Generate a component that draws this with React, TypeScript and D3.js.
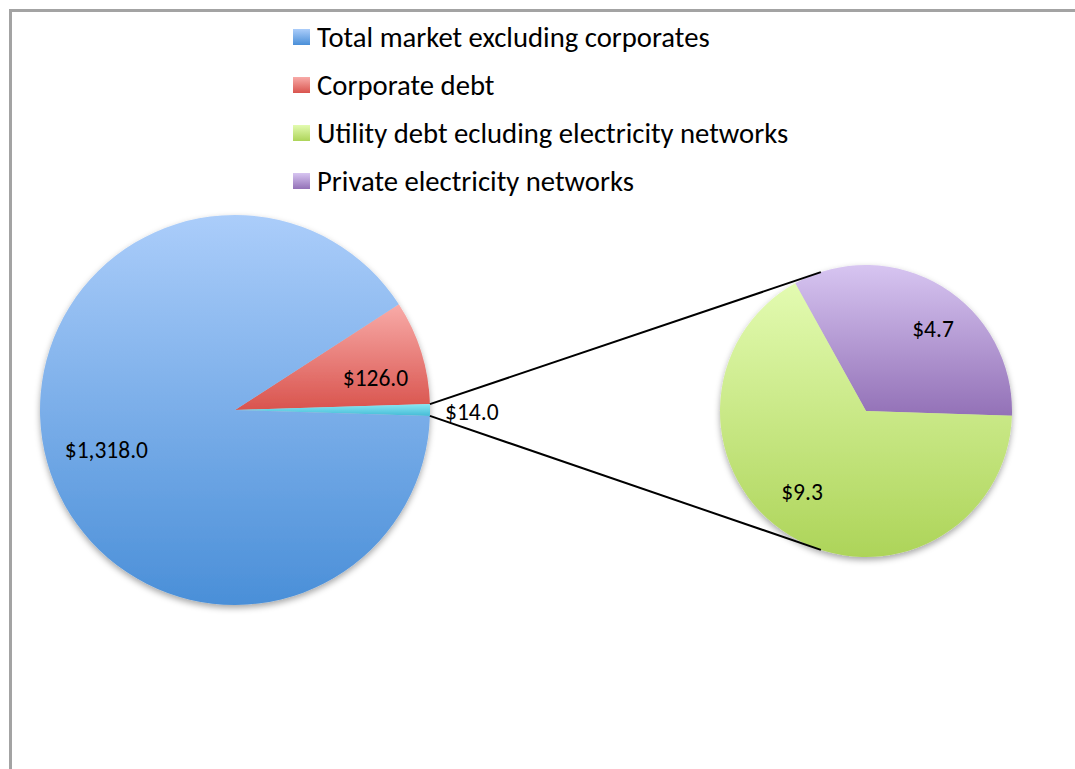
import React from "react";
import * as d3 from "d3";

const legendLabels = [
  "Total market excluding corporates",
  "Corporate debt",
  "Utility debt ecluding electricity networks",
  "Private electricity networks",
];

// main pie (clockwise order starting from the corporate slice)
const mainNames = ["Corporate debt", "Electricity related", "Total market excluding corporates"];
const mainValues = [126.0, 14.0, 1318.0];
const mainText = ["$126.0", "$14.0", "$1,318.0"];

// secondary pie
const subNames = ["Private electricity networks", "Utility debt ecluding electricity networks"];
const subValues = [4.7, 9.3];
const subText = ["$4.7", "$9.3"];

const grads: Record<string, [string, string]> = {
  blue: ["#abcdfa", "#4a8fd8"],
  red: ["#f8aba8", "#d9544e"],
  cyan: ["#8ae6f3", "#45bcd6"],
  green: ["#e3fbb1", "#add459"],
  purple: ["#d7c5f1", "#9371b7"],
};
const mainColors = ["red", "cyan", "blue"];
const subColors = ["purple", "green"];
const legendColors = ["blue", "red", "green", "purple"];

const FONT = "Carlito, Calibri, Lato, sans-serif";

export default function App() {
  const W = 1075, H = 769;
  const main = { cx: 235, cy: 410, r: 195 };
  const sub = { cx: 866, cy: 411, r: 146 };

  // label placement tweaks (Excel-like placement), in px
  const mainNudge = [[12, 8], [0, 0], [1, 4]];
  const subNudge = [[13, 7], [-10, -7]];

  const mainTotal = d3.sum(mainValues);
  const smallAngle = (mainValues[1] / mainTotal) * 2 * Math.PI;
  const corpAngle = (mainValues[0] / mainTotal) * 2 * Math.PI;
  const mainStart = Math.PI / 2 - smallAngle / 2 - corpAngle;
  const mainPie = d3.pie<number>().sort(null).startAngle(mainStart).endAngle(mainStart + 2 * Math.PI)(mainValues);

  const subStart = (-29 * Math.PI) / 180;
  const subPie = d3.pie<number>().sort(null).startAngle(subStart).endAngle(subStart + 2 * Math.PI)(subValues);

  const mainArc = d3.arc<d3.PieArcDatum<number>>().innerRadius(0).outerRadius(main.r);
  const subArc = d3.arc<d3.PieArcDatum<number>>().innerRadius(0).outerRadius(sub.r);
  const mainLabelArc = d3.arc<d3.PieArcDatum<number>>().innerRadius(main.r * 0.69).outerRadius(main.r * 0.69);
  const subLabelArc = d3.arc<d3.PieArcDatum<number>>().innerRadius(sub.r * 0.71).outerRadius(sub.r * 0.71);

  const pt = (cx: number, cy: number, r: number, a: number) => [cx + r * Math.sin(a), cy - r * Math.cos(a)];
  const small = mainPie[1];
  const p1 = pt(main.cx, main.cy, main.r, small.startAngle);
  const p2 = pt(main.cx, main.cy, main.r, small.endAngle);
  const connAngle = (18 * Math.PI) / 180;
  const q1 = pt(sub.cx, sub.cy, sub.r, -connAngle);
  const q2 = pt(sub.cx, sub.cy, sub.r, Math.PI + connAngle);

  const legendY = d3.scalePoint<string>().domain(legendLabels).range([37, 181]);

  return (
    <svg width={W} height={H} style={{ position: "absolute", left: 0, top: 0 }} fontFamily={FONT}>
      <defs>
        {Object.entries(grads).map(([k, [a, b]]) => (
          <linearGradient key={k} id={`g-${k}`} x1="0" y1="0" x2="0" y2="1">
            <stop offset="0" stopColor={a} />
            <stop offset="1" stopColor={b} />
          </linearGradient>
        ))}
        <filter id="shadow" x="-10%" y="-10%" width="120%" height="125%">
          <feDropShadow dx="0" dy="3" stdDeviation="3" floodColor="#000" floodOpacity="0.35" />
        </filter>
      </defs>
      <rect x={0} y={0} width={W} height={H} fill="#fff" />
      <rect x={10.5} y={10.5} width={W + 100} height={H + 100} fill="none" stroke="#a3a3a3" strokeWidth={3} />

      {legendLabels.map((l, i) => (
        <g key={l} transform={`translate(293,${legendY(l)! - 8})`}>
          <rect width={17} height={16} fill={`url(#g-${legendColors[i]})`} />
          <text x={24} y={18} fontSize={28.7} fill="#000">{l}</text>
        </g>
      ))}

      <g transform={`translate(${main.cx},${main.cy})`} filter="url(#shadow)">
        {mainPie.map((d, i) => (
          <path key={mainNames[i]} d={mainArc(d)!} fill={`url(#g-${mainColors[i]})`} />
        ))}
      </g>
      <g transform={`translate(${sub.cx},${sub.cy})`} filter="url(#shadow)">
        {subPie.map((d, i) => (
          <path key={subNames[i]} d={subArc(d)!} fill={`url(#g-${subColors[i]})`} />
        ))}
      </g>

      <line x1={p1[0]} y1={p1[1]} x2={q1[0]} y2={q1[1]} stroke="#000" strokeWidth={2} />
      <line x1={p2[0]} y1={p2[1]} x2={q2[0]} y2={q2[1]} stroke="#000" strokeWidth={2} />

      <g transform={`translate(${main.cx},${main.cy})`} fontSize={23.5} fill="#000">
        {mainPie.map((d, i) => {
          if (i === 1) {
            return (
              <text key={i} x={main.r + 15} y={10}>{mainText[i]}</text>
            );
          }
          const [x, y] = mainLabelArc.centroid(d);
          return (
            <text key={i} x={x + mainNudge[i][0]} y={y + mainNudge[i][1] + 7.5} textAnchor="middle">{mainText[i]}</text>
          );
        })}
      </g>
      <g transform={`translate(${sub.cx},${sub.cy})`} fontSize={23.5} fill="#000">
        {subPie.map((d, i) => {
          const [x, y] = subLabelArc.centroid(d);
          return (
            <text key={i} x={x + subNudge[i][0]} y={y + subNudge[i][1] + 7.5} textAnchor="middle">{subText[i]}</text>
          );
        })}
      </g>
    </svg>
  );
}
